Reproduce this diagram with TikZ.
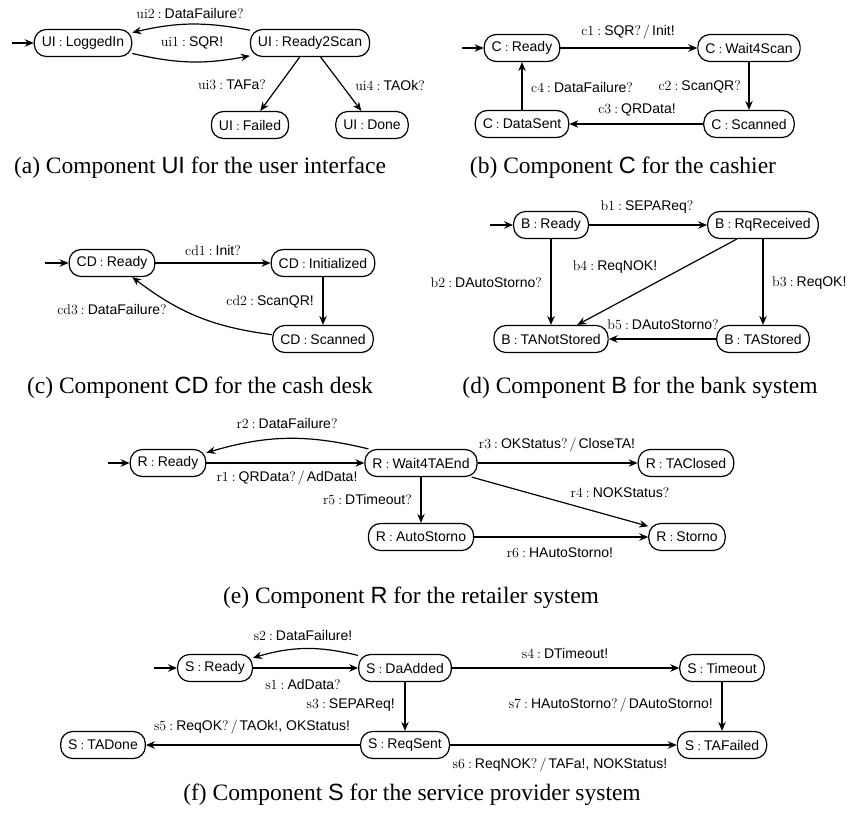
\documentclass[tikz,border=0pt]{standalone}
\usepackage{fontspec}
\setsansfont{Liberation Sans}
\newfontfamily\capfont{Liberation Serif}
\usetikzlibrary{arrows.meta}
\newcommand\cl{\hspace{.22em}:\hspace{.22em}}
\newcommand\sv[1]{\textsf{#1}}
\newcommand\sla{\hspace{.15em}/\hspace{.15em}}
\tikzset{
  st/.style={draw, line width=1.2pt, rounded corners=12pt, minimum height=27pt,
    inner xsep=7.5pt, inner ysep=0pt, font=\fontsize{14}{16}\selectfont},
  lb/.style={inner sep=0pt, font=\fontsize{14}{16}\selectfont},
  captxt/.style={inner sep=0pt, font=\capfont\fontsize{23.5}{28}\selectfont},
  ar/.style={line width=1.2pt, -{Stealth[length=9pt,width=7.5pt,inset=3pt]}}
}
\begin{document}
\begin{tikzpicture}[x=1pt,y=-1pt]
\useasboundingbox (0,0) rectangle (856,824);
% (a)
\node[st] (li) at (83,43) {\sv{UI}\cl\sv{LoggedIn}};
\node[st] (rs) at (310,43) {\sv{UI}\cl\sv{Ready2Scan}};
\node[st] (fa) at (250,125) {\sv{UI}\cl\sv{Failed}};
\node[st] (dn) at (372,125) {\sv{UI}\cl\sv{Done}};
\coordinate (ia) at (12,43);
\draw[ar] (ia) -- (li);
\draw[ar] (li) to[bend right=12] (rs);
\draw[ar] (rs) to[bend right=12] (li);
\draw[ar] (rs) -- (fa);
\draw[ar] (rs) -- (dn);
\node[lb] (lui1) at (192,43) {ui1\cl\sv{SQR!}};
\node[lb] (lui2) at (190,13) {ui2\cl\sv{DataFailure}?};
\node[lb] (lui3) at (232,85) {ui3\cl\sv{TAFa}?};
\node[lb] (lui4) at (390,85) {ui4\cl\sv{TAOk}?};
\node[captxt] (capa) at (200,168) {(a) Component \textsf{UI} for the user interface};
% (b)
\node[st] (cr) at (522,48) {\sv{C}\cl\sv{Ready}};
\node[st] (cw) at (749,48) {\sv{C}\cl\sv{Wait4Scan}};
\node[st] (cs) at (749,124) {\sv{C}\cl\sv{Scanned}};
\node[st] (cd) at (522,124) {\sv{C}\cl\sv{DataSent}};
\coordinate (ib) at (462,48);
\draw[ar] (ib) -- (cr);
\draw[ar] (cr) -- (cw);
\draw[ar] (cw) -- (cs);
\draw[ar] (cs) -- (cd);
\draw[ar] (cd) -- (cr);
\node[lb] (lc1) at (628,32) {c1\cl\sv{SQR}?\sla\sv{Init!}};
\node[lb,anchor=east] (lc2) at (741,87) {c2\cl\sv{ScanQR}?};
\node[lb] (lc3) at (637,110) {c3\cl\sv{QRData!}};
\node[lb,anchor=west] (lc4) at (531,87) {c4\cl\sv{DataFailure}?};
\node[captxt] (capb) at (623,168) {(b) Component \textsf{C} for the cashier};
% (c)
\node[st] (cdr) at (112,263) {\sv{CD}\cl\sv{Ready}};
\node[st] (cdi) at (323,263) {\sv{CD}\cl\sv{Initialized}};
\node[st] (cds) at (323,339) {\sv{CD}\cl\sv{Scanned}};
\coordinate (ic) at (45,263);
\draw[ar] (ic) -- (cdr);
\draw[ar] (cdr) -- (cdi);
\draw[ar] (cdi) -- (cds);
\draw[ar] (cds) to[bend left=15] (cdr);
\node[lb] (lcd1) at (213,250) {cd1\cl\sv{Init}?};
\node[lb,anchor=east] (lcd2) at (314,302) {cd2\cl\sv{ScanQR!}};
\node[lb] (lcd3) at (112,310) {cd3\cl\sv{DataFailure}?};
\node[captxt] (capc) at (200,388) {(c) Component \textsf{CD} for the cash desk};
% (d)
\node[st] (br) at (551,225) {\sv{B}\cl\sv{Ready}};
\node[st] (bq) at (763,225) {\sv{B}\cl\sv{RqReceived}};
\node[st] (bn) at (551,339) {\sv{B}\cl\sv{TANotStored}};
\node[st] (bt) at (763,339) {\sv{B}\cl\sv{TAStored}};
\coordinate (id) at (490,225);
\draw[ar] (id) -- (br);
\draw[ar] (br) -- (bq);
\draw[ar] (br) -- (bn);
\draw[ar] (bq) -- (bt);
\draw[ar] (bq) -- (bn);
\draw[ar] (bt) -- (bn);
\node[lb] (lb1) at (647,207) {b1\cl\sv{SEPAReq}?};
\node[lb,anchor=east] (lb2) at (542,283) {b2\cl\sv{DAutoStorno}?};
\node[lb,anchor=west] (lb3) at (772,283) {b3\cl\sv{ReqOK!}};
\node[lb] (lb4) at (615,267) {b4\cl\sv{ReqNOK!}};
\node[lb] (lb5) at (663,325) {b5\cl\sv{DAutoStorno}?};
\node[captxt] (capd) at (640,388) {(d) Component \textsf{B} for the bank system};
% (e)
\node[st] (rr) at (168,463) {\sv{R}\cl\sv{Ready}};
\node[st] (rw) at (421,463) {\sv{R}\cl\sv{Wait4TAEnd}};
\node[st] (rc) at (686,463) {\sv{R}\cl\sv{TAClosed}};
\node[st] (ra) at (421,537) {\sv{R}\cl\sv{AutoStorno}};
\node[st] (rs2) at (687,537) {\sv{R}\cl\sv{Storno}};
\coordinate (ie) at (108,463);
\draw[ar] (ie) -- (rr);
\draw[ar] (rr) -- (rw);
\draw[ar] (rw) to[bend right=15] (rr);
\draw[ar] (rw) -- (rc);
\draw[ar] (rw) -- (ra);
\draw[ar] (rw) -- (rs2);
\draw[ar] (ra) -- (rs2);
\node[lb] (lr1) at (287,478) {r1\cl\sv{QRData}?\sla\sv{AdData!}};
\node[lb] (lr2) at (287,423) {r2\cl\sv{DataFailure}?};
\node[lb] (lr3) at (557,445) {r3\cl\sv{OKStatus}?\sla\sv{CloseTA!}};
\node[lb] (lr4) at (620,493) {r4\cl\sv{NOKStatus}?};
\node[lb,anchor=east] (lr5) at (412,500) {r5\cl\sv{DTimeout}?};
\node[lb] (lr6) at (560,553) {r6\cl\sv{HAutoStorno!}};
\node[captxt] (cape) at (411,598) {(e) Component \textsf{R} for the retailer system};
% (f)
\node[st] (sr) at (215,668) {\sv{S}\cl\sv{Ready}};
\node[st] (sd) at (405,668) {\sv{S}\cl\sv{DaAdded}};
\node[st] (stt) at (722,668) {\sv{S}\cl\sv{Timeout}};
\node[st] (sq) at (405,745) {\sv{S}\cl\sv{ReqSent}};
\node[st] (sn) at (103,745) {\sv{S}\cl\sv{TADone}};
\node[st] (sf) at (722,745) {\sv{S}\cl\sv{TAFailed}};
\coordinate (iff) at (154,668);
\draw[ar] (iff) -- (sr);
\draw[ar] (sr) -- (sd);
\draw[ar] (sd) to[bend right=15] (sr);
\draw[ar] (sd) -- (stt);
\draw[ar] (sd) -- (sq);
\draw[ar] (stt) -- (sf);
\draw[ar] (sq) -- (sn);
\draw[ar] (sq) -- (sf);
\node[lb] (ls1) at (303,684) {s1\cl\sv{AdData}?};
\node[lb] (ls2) at (303,635) {s2\cl\sv{DataFailure!}};
\node[lb,anchor=east] (ls3) at (395,705) {s3\cl\sv{SEPAReq!}};
\node[lb] (ls4) at (565,653) {s4\cl\sv{DTimeout!}};
\node[lb] (ls5) at (252,727) {s5\cl\sv{ReqOK}?\sla\sv{TAOk!, OKStatus!}};
\node[lb] (ls6) at (560,765) {s6\cl\sv{ReqNOK}?\sla\sv{TAFa!, NOKStatus!}};
\node[lb,anchor=east] (ls7) at (713,705) {s7\cl\sv{HAutoStorno}?\sla\sv{DAutoStorno!}};
\node[captxt] (capf) at (412,795) {(f) Component \textsf{S} for the service provider system};
\end{tikzpicture}
\end{document}
